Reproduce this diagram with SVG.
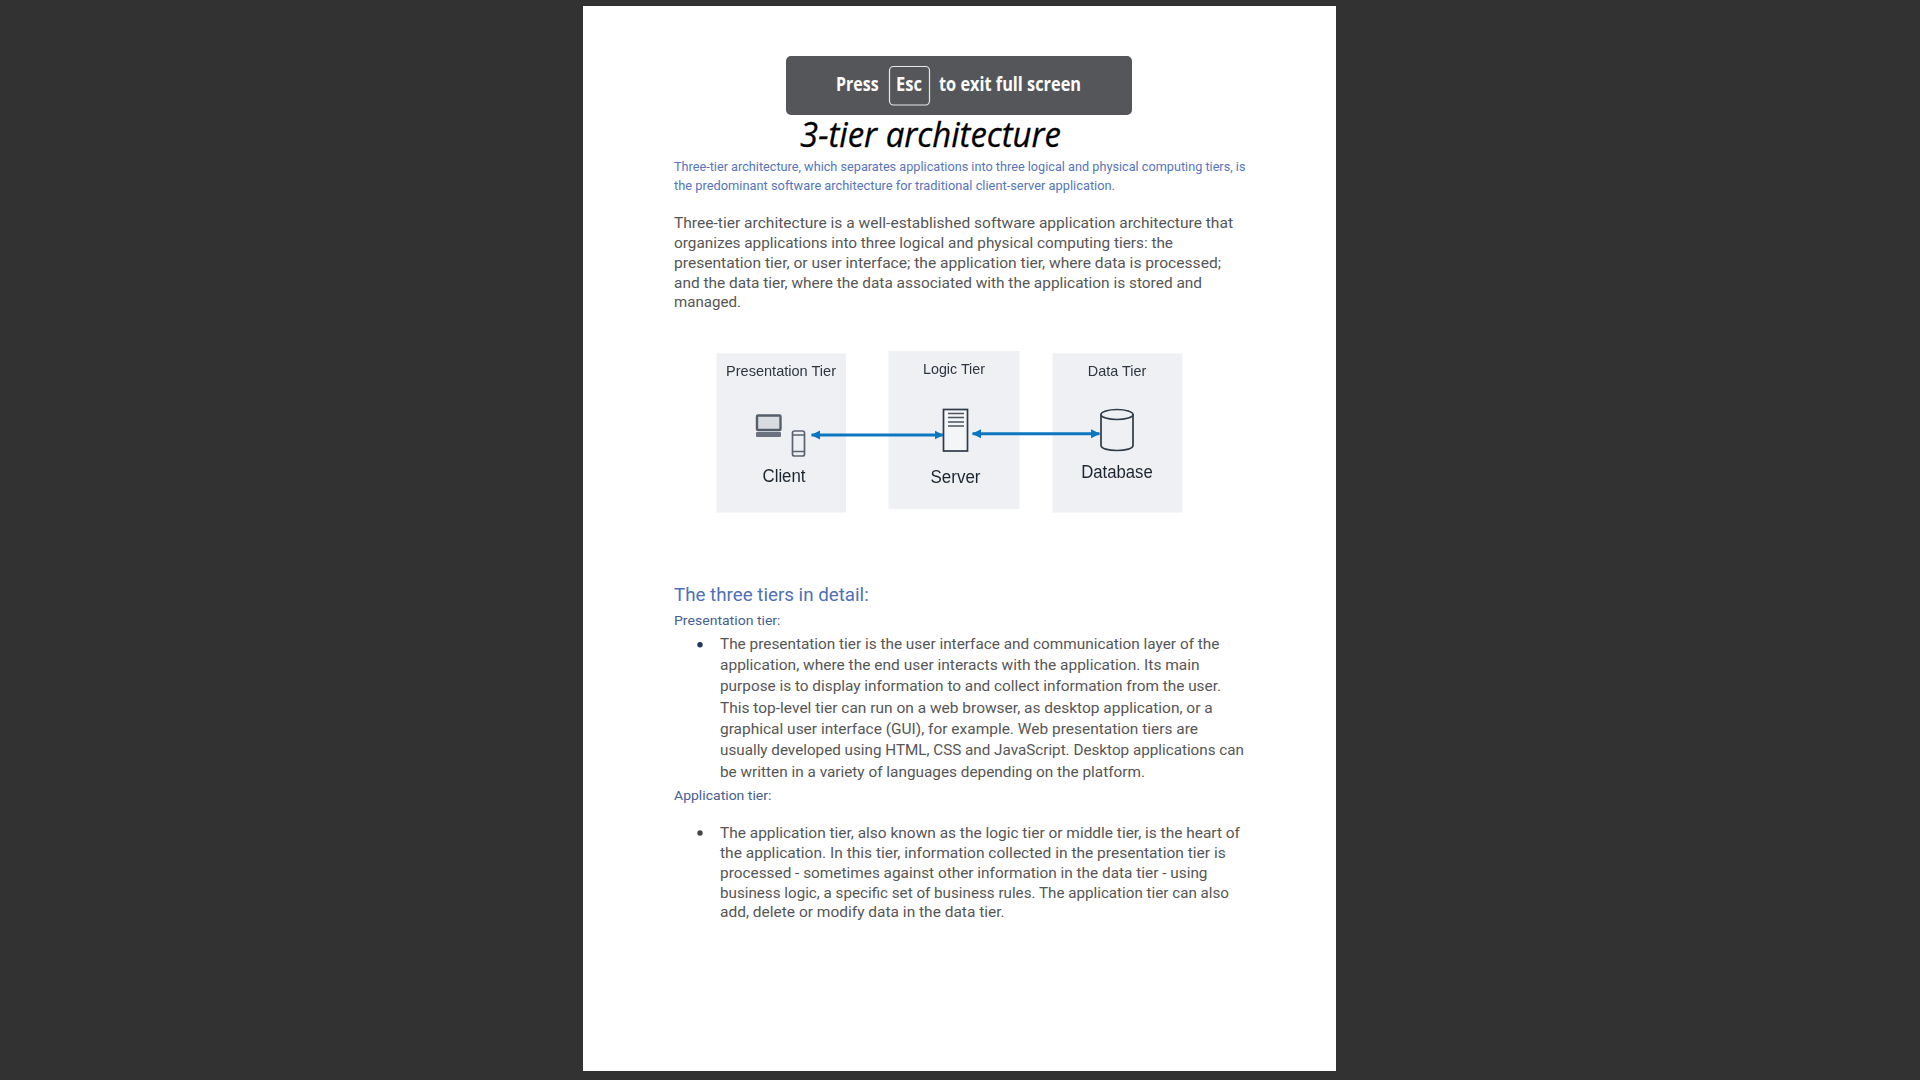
<svg xmlns="http://www.w3.org/2000/svg" width="1920" height="1080" viewBox="0 0 1920 1080">
<style>
text{font-family:Roboto,"Noto Sans",sans-serif;white-space:pre}
.sub{font-size:13.5px;fill:#5675bb}
.body{font-size:15.5px;fill:#565656}
.lab{font-size:14.5px;fill:#2f3640;font-family:"Liberation Sans",Arial,sans-serif}
.big{font-size:17.5px;fill:#1f2630;font-family:"Liberation Sans",Arial,sans-serif}
.hint{font-size:19px;font-weight:700;fill:#fff;font-family:"Open Sans",sans-serif}
.tier{fill:#eef0f4}
.ic{fill:none;stroke:#2f3a48;stroke-width:1.7}
.ig{fill:none;stroke:#5b6270;stroke-width:1.7}
.conn{stroke:#0f76c0;stroke-width:3;fill:none;marker-start:url(#h);marker-end:url(#h)}
.small{font-size:13.5px;fill:#46608f}
</style>
<defs>
<marker id="h" viewBox="0 0 9 10" refX="8.5" refY="5" markerWidth="9" markerHeight="10" markerUnits="userSpaceOnUse" orient="auto-start-reverse"><path d="M0 0.500L9 5L0 9.500Z" fill="#0f76c0"/></marker>
<filter id="soft" filterUnits="userSpaceOnUse" x="700" y="340" width="500" height="185"><feGaussianBlur stdDeviation="0.45"/></filter>
</defs>
<rect width="1920" height="1080" fill="#323232"/>
<rect x="583" y="6" width="753" height="1065" fill="#fff"/>

<g id="fullscreen-hint">
<rect x="786" y="56" width="346" height="59" rx="5" fill="#54565a"/>
<rect x="889.500" y="66.500" width="40" height="38.500" rx="4" fill="none" stroke="#e6e7e8" stroke-width="1.200"/>
<text class="hint" x="836" y="91" textLength="42.600" lengthAdjust="spacingAndGlyphs">Press</text>
<text class="hint" x="896" y="91" textLength="26" lengthAdjust="spacingAndGlyphs">Esc</text>
<text class="hint" x="939" y="91" textLength="142" lengthAdjust="spacingAndGlyphs">to exit full screen</text>
</g>

<g id="intro">
<text x="800" y="146.500" font-size="35" font-style="italic" fill="#000" style="font-family:'Open Sans',sans-serif" textLength="261" lengthAdjust="spacingAndGlyphs" stroke="#000" stroke-width="0.3">3-tier architecture</text>
<text class="sub" x="674" y="171" textLength="571.500" lengthAdjust="spacingAndGlyphs">Three-tier architecture, which separates applications into three logical and physical computing tiers, is</text>
<text class="sub" x="674" y="190" textLength="441" lengthAdjust="spacingAndGlyphs">the predominant software architecture for traditional client-server application.</text>
<text class="body" x="674" y="228" textLength="559" lengthAdjust="spacingAndGlyphs">Three-tier architecture is a well-established software application architecture that</text>
<text class="body" x="674" y="248" textLength="499" lengthAdjust="spacingAndGlyphs">organizes applications into three logical and physical computing tiers: the</text>
<text class="body" x="674" y="268" textLength="547" lengthAdjust="spacingAndGlyphs">presentation tier, or user interface; the application tier, where data is processed;</text>
<text class="body" x="674" y="288" textLength="528" lengthAdjust="spacingAndGlyphs">and the data tier, where the data associated with the application is stored and</text>
<text class="body" x="674" y="307" textLength="67" lengthAdjust="spacingAndGlyphs">managed.</text>
</g>

<g filter="url(#soft)">
<g id="presentation-tier">
<rect class="tier" x="716.500" y="353.500" width="129.500" height="159"/>
<text class="lab" x="781" y="376" text-anchor="middle" textLength="110" lengthAdjust="spacingAndGlyphs">Presentation Tier</text>
<rect x="757" y="415.500" width="23.500" height="14.500" rx="1" fill="#d8dbe0" stroke="#555e6b" stroke-width="2.400"/>
<rect x="756" y="432" width="25" height="5" rx="1" fill="#6b7280"/>
<rect class="ig" x="792.500" y="431" width="12" height="25" rx="2"/>
<path class="ig" d="M792.500 435H804.500M792.500 451.500H804.500" stroke-width="1"/>
<text class="big" x="784" y="481.700" text-anchor="middle" textLength="43" lengthAdjust="spacingAndGlyphs">Client</text>
</g>
<g id="logic-tier">
<rect class="tier" x="888.500" y="351" width="131" height="158"/>
<text class="lab" x="954" y="373.700" text-anchor="middle" textLength="62" lengthAdjust="spacingAndGlyphs">Logic Tier</text>
<rect class="ic" style="fill:#f4f5f7" x="943.500" y="409.500" width="24" height="41.500"/>
<path d="M948 413.500H964M948 417.500H964M948 422H964M948 426H964" stroke="#4b5462" stroke-width="1.400" fill="none"/>
<text class="big" x="955.500" y="482.700" text-anchor="middle" textLength="50" lengthAdjust="spacingAndGlyphs">Server</text>
</g>
<g id="data-tier">
<rect class="tier" x="1052.500" y="353.500" width="130" height="159"/>
<text class="lab" x="1117" y="376" text-anchor="middle" textLength="58.500" lengthAdjust="spacingAndGlyphs">Data Tier</text>
<path class="ic" d="M1101 414.500V445.500C1101 448.500 1108 450.500 1117 450.500C1126 450.500 1133 448.500 1133 445.500V414.500"/>
<ellipse class="ic" cx="1117" cy="414.500" rx="16" ry="5"/>
<text class="big" x="1117" y="478" text-anchor="middle" textLength="71.600" lengthAdjust="spacingAndGlyphs">Database</text>
</g>
<g id="connectors">
<line class="conn" x1="811.500" y1="435" x2="943" y2="435"/>
<line class="conn" x1="972.500" y1="433.700" x2="1099.500" y2="433.700"/>
</g>
</g>

<g id="details">
<text x="674" y="601" font-size="18.500px" fill="#4f70b4" textLength="194.700" lengthAdjust="spacingAndGlyphs">The three tiers in detail:</text>
<text class="small" x="674" y="625" textLength="106.500" lengthAdjust="spacingAndGlyphs">Presentation tier:</text>
<circle cx="700" cy="644.700" r="2.700" fill="#1f3864"/>
<text class="body" x="720" y="648.700" textLength="499.400" lengthAdjust="spacingAndGlyphs">The presentation tier is the user interface and communication layer of the</text>
<text class="body" x="720" y="670" textLength="479.600" lengthAdjust="spacingAndGlyphs">application, where the end user interacts with the application. Its main</text>
<text class="body" x="720" y="690.700" textLength="501" lengthAdjust="spacingAndGlyphs">purpose is to display information to and collect information from the user.</text>
<text class="body" x="720" y="712.700" textLength="492.700" lengthAdjust="spacingAndGlyphs">This top-level tier can run on a web browser, as desktop application, or a</text>
<text class="body" x="720" y="733.700" textLength="478" lengthAdjust="spacingAndGlyphs">graphical user interface (GUI), for example. Web presentation tiers are</text>
<text class="body" x="720" y="754.700" textLength="524" lengthAdjust="spacingAndGlyphs">usually developed using HTML, CSS and JavaScript. Desktop applications can</text>
<text class="body" x="720" y="777" textLength="425" lengthAdjust="spacingAndGlyphs">be written in a variety of languages depending on the platform.</text>
<text class="small" x="674" y="800" textLength="97.400" lengthAdjust="spacingAndGlyphs">Application tier:</text>
<circle cx="700" cy="833" r="2.700" fill="#444"/>
<text class="body" x="720" y="838" textLength="520" lengthAdjust="spacingAndGlyphs">The application tier, also known as the logic tier or middle tier, is the heart of</text>
<text class="body" x="720" y="858" textLength="505.700" lengthAdjust="spacingAndGlyphs">the application. In this tier, information collected in the presentation tier is</text>
<text class="body" x="720" y="878" textLength="487.500" lengthAdjust="spacingAndGlyphs">processed - sometimes against other information in the data tier - using</text>
<text class="body" x="720" y="898" textLength="509" lengthAdjust="spacingAndGlyphs">business logic, a specific set of business rules. The application tier can also</text>
<text class="body" x="720" y="917" textLength="284.700" lengthAdjust="spacingAndGlyphs">add, delete or modify data in the data tier.</text>
</g>
</svg>
